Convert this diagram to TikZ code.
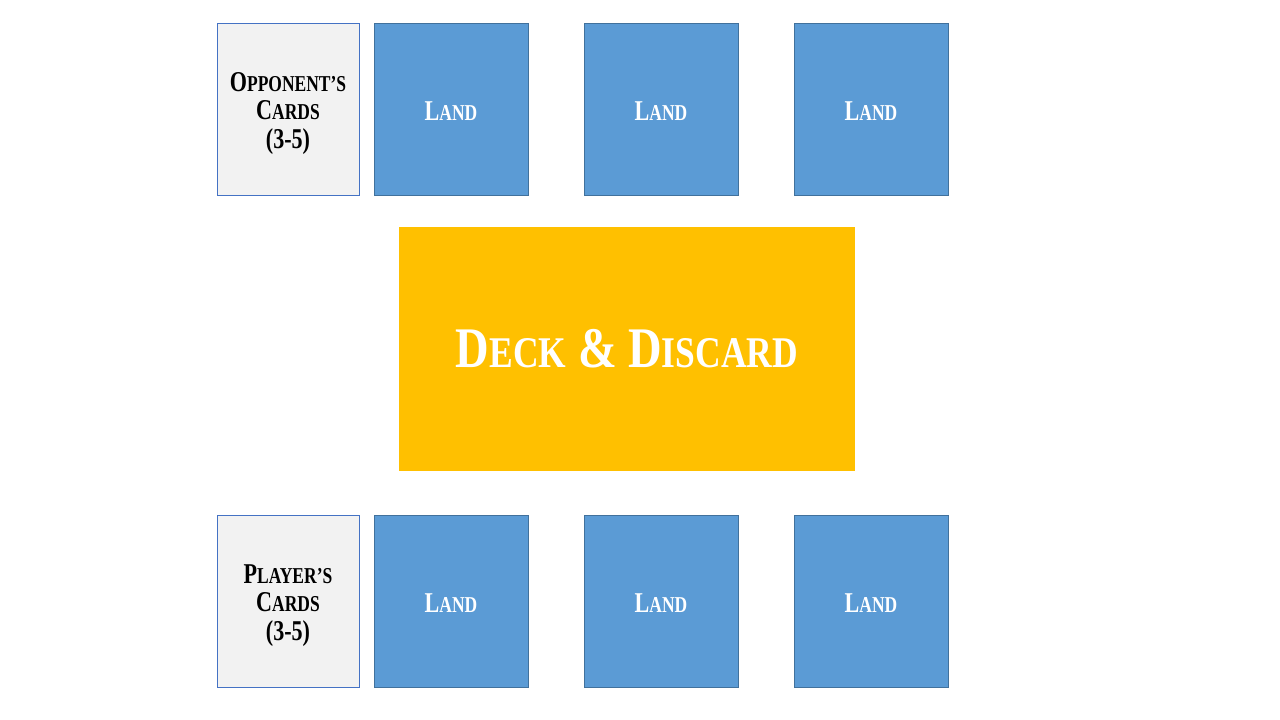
\documentclass[tikz,border=0pt]{standalone}
\usepackage{fontspec}
\setmainfont{Liberation Serif}[FakeStretch=0.77]
\newfontfamily\deckfont{Liberation Serif}[FakeStretch=0.81]
\definecolor{landblue}{HTML}{5B9BD5}
\definecolor{landedge}{HTML}{41719C}
\definecolor{cardgray}{HTML}{F2F2F2}
\definecolor{cardedge}{HTML}{4472C4}
\definecolor{deckgold}{HTML}{FFC000}
\def\lowsz{22.7}
\newcommand{\capword}[2]{#1{\fontsize{\lowsz}{28.5}\selectfont #2}}
\newcommand{\droptext}[2]{\raisebox{-#1}[\height][\depth]{#2}}
\newcommand{\handtext}[1]{\droptext{5pt}{\begin{tabular}{@{}c@{}}#1\\\capword{C}{ARDS}\\(3-5)\end{tabular}}}
\begin{document}
\begin{tikzpicture}[x=1pt,y=-1pt,
	card/.style={draw=cardedge,fill=cardgray,line width=0.8pt,minimum width=142pt,minimum height=172pt,inner sep=0pt,font=\bfseries\fontsize{28.7}{28.5}\selectfont},
	land/.style={draw=landedge,fill=landblue,line width=0.8pt,text=white,minimum width=154pt,minimum height=172pt,inner sep=0pt,font=\bfseries\fontsize{28.7}{28.5}\selectfont},
	deck/.style={fill=deckgold,text=white,minimum width=456pt,minimum height=244pt,inner sep=0pt,font=\def\lowsz{43.8}\deckfont\bfseries\fontsize{57.4}{60}\selectfont}]
	\useasboundingbox (0,0) rectangle (1280,720);
	% hands
	\node[card] (opp) at (288,109) {\handtext{\capword{O}{PPONENT’S}}};
	\node[card] (ply) at (288,601) {\handtext{\capword{P}{LAYER’S}}};
	% lands
	\foreach \x [count=\i] in {451,661,871} {
		\node[land] (oland\i) at (\x,109) {\droptext{2pt}{\capword{L}{AND}}};
		\node[land] (pland\i) at (\x,601) {\droptext{2pt}{\capword{L}{AND}}};
	}
	\node[deck] (deck) at (627,349) {\capword{D}{ECK} \& \capword{D}{ISCARD}};
\end{tikzpicture}
\end{document}
